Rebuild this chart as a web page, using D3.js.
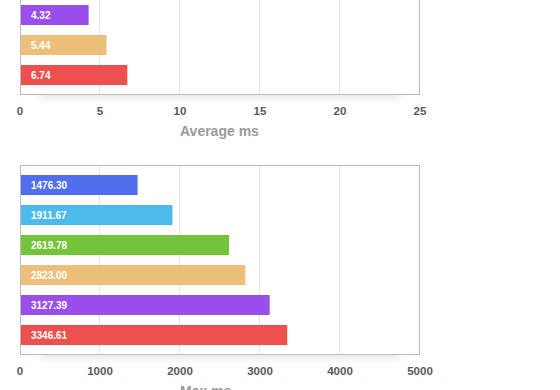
<!DOCTYPE html>
<html><head><meta charset="utf-8">
<script src="https://cdn.jsdelivr.net/npm/d3@7"></script>
<style>
html,body{margin:0;padding:0;background:#fff;overflow:hidden;}
svg{display:block;font-family:"Liberation Sans",Arial,Helvetica,sans-serif;}
</style></head>
<body>
<svg id="c" width="560" height="390"></svg>
<script>
// ---- data ----
const avgCategories = ["C4", "C5", "C6"];
const avgValues = [4.32, 5.44, 6.74];
const avgColors = ["#9a4eec", "#ecc07b", "#ee5050"];
const avgTicks = [0, 5, 10, 15, 20, 25];
const avgTitle = "Average ms";

const maxCategories = ["C1", "C2", "C3", "C4", "C5", "C6"];
const maxValues = [1476.30, 1911.67, 2619.78, 2823.00, 3127.39, 3346.61];
const maxColors = ["#4f6fee", "#4dbaec", "#73c43b", "#ecc07b", "#9a4eec", "#ee5050"];
const maxTicks = [0, 1000, 2000, 3000, 4000, 5000];
const maxTitle = "Max ms";

const svg = d3.select("#c");
const defs = svg.append("defs");
defs.append("filter").attr("id","blur").attr("x","-20%").attr("y","-100%").attr("width","140%").attr("height","300%")
  .append("feGaussianBlur").attr("stdDeviation", 4);

function panel(cfg) {
  const g = svg.append("g");
  const x = d3.scaleLinear().domain([0, cfg.max]).range([19.5, 419.5]);
  const y = d3.scaleBand().domain(cfg.categories).range([cfg.top, cfg.bottom])
    .paddingInner(1/3).paddingOuter(0.3167);

  // shadow under box
  g.append("rect").attr("x", 40).attr("y", cfg.bottom - 8).attr("width", 360).attr("height", 12)
    .attr("fill", "#000").attr("opacity", 0.09).attr("filter", "url(#blur)");
  // box
  g.append("rect").attr("x", 20.5).attr("y", cfg.top).attr("width", 399).attr("height", cfg.bottom - cfg.top)
    .attr("fill", "#fff");
  // grid
  g.selectAll(".grid").data(cfg.ticks.filter(t => t > 0 && t < cfg.max)).join("line")
    .attr("x1", d => x(d)).attr("x2", d => x(d))
    .attr("y1", cfg.top).attr("y2", cfg.bottom)
    .attr("stroke", "#e6e6e6").attr("stroke-width", 1);
  // bars
  g.selectAll(".bar").data(cfg.values).join("rect")
    .attr("x", 21).attr("y", (d, i) => y(cfg.categories[i]))
    .attr("width", d => x(d) - 21).attr("height", y.bandwidth())
    .attr("fill", (d, i) => cfg.colors[i]);
  g.selectAll(".lbl").data(cfg.values).join("text")
    .attr("x", 31).attr("y", (d, i) => y(cfg.categories[i]) + y.bandwidth() / 2)
    .attr("dy", "0.36em")
    .attr("fill", "#fff").attr("font-size", 10).attr("font-weight", "bold")
    .text(d => d.toFixed(2));
  // border
  g.append("rect").attr("x", 20.5).attr("y", cfg.top).attr("width", 399).attr("height", cfg.bottom - cfg.top)
    .attr("fill", "none").attr("stroke", "#bbbbbb").attr("stroke-width", 1);
  // axis
  const axis = d3.axisBottom(x).tickValues(cfg.ticks).tickSize(0).tickPadding(0).tickFormat(d3.format("d"));
  const ag = g.append("g").attr("transform", `translate(0,${cfg.bottom + 20.3})`).call(axis);
  ag.select(".domain").remove();
  ag.selectAll("text").attr("dy", 0).attr("y", 0)
    .attr("fill", "#5a5a5a").attr("font-size", 11.5).attr("font-weight", "bold")
    .attr("font-family", "\"Liberation Sans\",Arial,sans-serif");
  g.append("text").attr("x", 180).attr("y", cfg.bottom + 41)
    .attr("fill", "#9a9a9a").attr("font-size", 14).attr("font-weight", "bold")
    .text(cfg.title);
}

panel({categories: avgCategories, values: avgValues, colors: avgColors, ticks: avgTicks, max: 25,
       title: avgTitle, top: -4.5, bottom: 94.5});
panel({categories: maxCategories, values: maxValues, colors: maxColors, ticks: maxTicks, max: 5000,
       title: maxTitle, top: 165.5, bottom: 354.5});
</script>
</body></html>
